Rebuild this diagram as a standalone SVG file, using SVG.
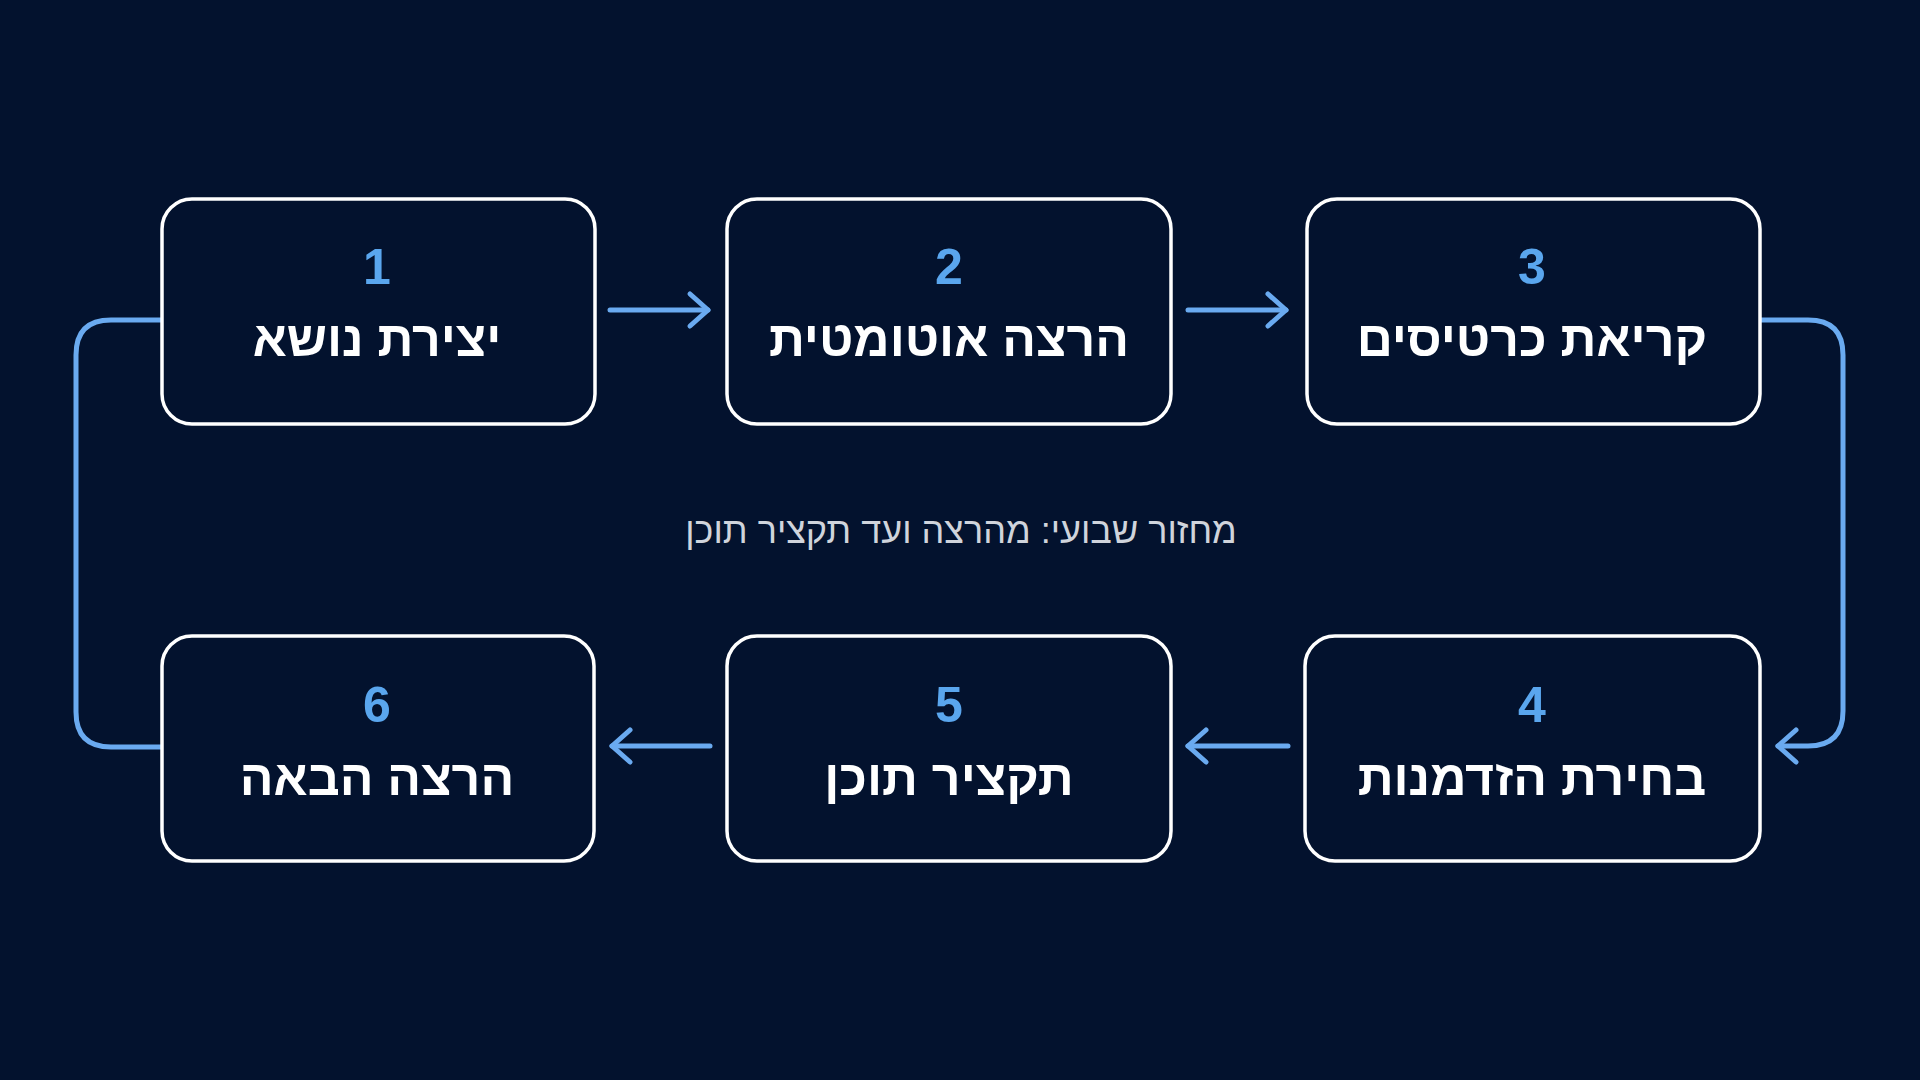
<svg xmlns="http://www.w3.org/2000/svg" width="1920" height="1080" viewBox="0 0 1920 1080">
<defs>
<style>
.box{fill:#03122e;stroke:#ffffff;stroke-width:3.5}
.num{font-family:"Liberation Sans","DejaVu Sans",sans-serif;font-size:50px;font-weight:bold;fill:#5aa6ee;text-anchor:middle}
.ttl{font-family:"Liberation Sans","DejaVu Sans",sans-serif;font-size:50px;font-weight:bold;fill:#ffffff;text-anchor:middle}
.con{fill:none;stroke:#6aaaf0;stroke-width:5;stroke-linecap:round;stroke-linejoin:round}
.sub{font-family:"Liberation Sans","DejaVu Sans",sans-serif;font-size:36px;fill:#d0d4dc;text-anchor:middle}
</style>
<marker id="ah" viewBox="0 0 20 20" refX="17" refY="10" markerWidth="20" markerHeight="20" markerUnits="userSpaceOnUse" orient="auto">
<path d="M4 2 L17 10 L4 18" fill="none" stroke="#6aaaf0" stroke-width="2.5" stroke-linecap="round" stroke-linejoin="round"/>
</marker>
<marker id="ahb" viewBox="0 0 40 40" refX="34" refY="20" markerWidth="40" markerHeight="40" markerUnits="userSpaceOnUse" orient="auto">
<path d="M16 4 L34 20 L16 36" fill="none" stroke="#6aaaf0" stroke-width="5" stroke-linecap="round" stroke-linejoin="round"/>
</marker>
</defs>
<rect width="1920" height="1080" fill="#03122e"/>
<g id="connectors">
<path class="con" d="M610 310 H708" marker-end="url(#ahb)"/>
<path class="con" d="M1188 310 H1286" marker-end="url(#ahb)"/>
<path class="con" d="M1288 746 H1188" marker-end="url(#ahb)"/>
<path class="con" d="M710 746 H612" marker-end="url(#ahb)"/>
<path class="con" d="M1760 320 H1808 Q1843 320 1843 355 V711 Q1843 746 1808 746 H1778" marker-end="url(#ahb)"/>
<path class="con" d="M162 747 H111 Q76 747 76 712 V355 Q76 320 111 320 H162"/>
</g>
<g id="node1"><rect class="box" x="162" y="199" width="433" height="225" rx="30"/><text class="num" x="377" y="284">1</text><text class="ttl" x="377" y="356">יצירת נושא</text></g>
<g id="node2"><rect class="box" x="727" y="199" width="444" height="225" rx="30"/><text class="num" x="949" y="284">2</text><text class="ttl" x="949" y="356">הרצה אוטומטית</text></g>
<g id="node3"><rect class="box" x="1307" y="199" width="453" height="225" rx="30"/><text class="num" x="1532" y="284">3</text><text class="ttl" x="1532" y="356">קריאת כרטיסים</text></g>
<g id="node4"><rect class="box" x="1305" y="636" width="455" height="225" rx="30"/><text class="num" x="1532" y="722">4</text><text class="ttl" x="1532" y="795">בחירת הזדמנות</text></g>
<g id="node5"><rect class="box" x="727" y="636" width="444" height="225" rx="30"/><text class="num" x="949" y="722">5</text><text class="ttl" x="949" y="795">תקציר תוכן</text></g>
<g id="node6"><rect class="box" x="162" y="636" width="432" height="225" rx="30"/><text class="num" x="377" y="722">6</text><text class="ttl" x="377" y="795">הרצה הבאה</text></g>
<text class="sub" x="961" y="543">מחזור שבועי: מהרצה ועד תקציר תוכן</text>
</svg>
